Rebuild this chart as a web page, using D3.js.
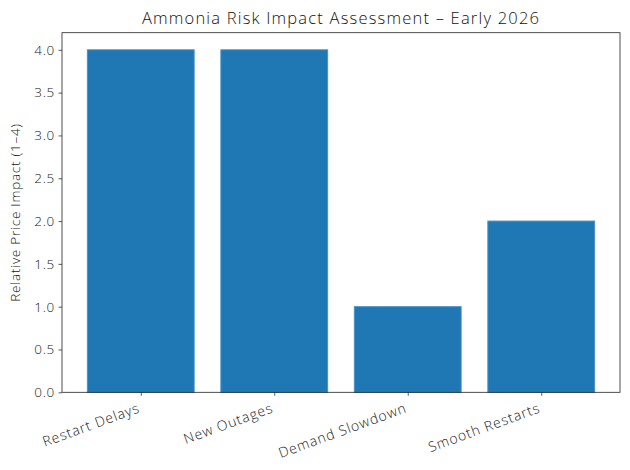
<!DOCTYPE html>
<html><head><meta charset="utf-8">
<script src="https://cdn.jsdelivr.net/npm/d3@7"></script>
<style>body{margin:0;background:#fff}svg{display:block}text{font-family:"Open Sans",sans-serif;font-weight:300}</style>
</head><body><svg id="c" width="630" height="470"></svg>
<script>
const categories = ["Restart Delays","New Outages","Demand Slowdown","Smooth Restarts"];
const values = [4,4,1,2];
const yTicks = [0,0.5,1,1.5,2,2.5,3,3.5,4];
const title = "Ammonia Risk Impact Assessment – Early 2026";
const yLabel = "Relative Price Impact (1–4)";

const m = {left:62, right:620, top:32.7, bottom:392.3};
const svg = d3.select("#c");
const x = d3.scaleLinear().domain([-0.59,3.59]).range([m.left,m.right]);
const y = d3.scaleLinear().domain([0,4.2]).range([m.bottom,m.top]);
const bw = x(0.8)-x(0);

svg.append("g").selectAll("rect").data(values).join("rect")
  .attr("x",(d,i)=>x(i-0.4)).attr("width",bw)
  .attr("y",d=>y(d)).attr("height",d=>y(0)-y(d))
  .attr("fill","#1f77b4").attr("stroke","#4a90c4").attr("stroke-width",1);

const yAxis = svg.append("g").attr("transform",`translate(${m.left},0)`)
  .call(d3.axisLeft(y).tickValues(yTicks).tickFormat(d3.format(".1f")).tickSize(3.5).tickPadding(3.5));
const xAxis = svg.append("g").attr("transform",`translate(0,${m.bottom})`)
  .call(d3.axisBottom(x).tickValues(d3.range(categories.length)).tickFormat(i=>categories[i]).tickSize(3.5).tickPadding(3.5));
[yAxis,xAxis].forEach(a=>{a.select(".domain").remove();a.selectAll("line").attr("stroke","#333").attr("stroke-width",0.8);
  a.selectAll("text").attr("fill","#222").style("font-size","13.5px").style("letter-spacing","0.7px");});
xAxis.selectAll("text").attr("text-anchor","end").attr("dy",null)
  .style("font-size","14px").style("letter-spacing","0.9px")
  .attr("transform","translate(-3,13) rotate(-20)");

svg.append("rect").attr("x",m.left).attr("y",m.top).attr("width",m.right-m.left).attr("height",m.bottom-m.top)
  .attr("fill","none").attr("stroke","#222").attr("stroke-width",0.8);

svg.append("text").attr("x",(m.left+m.right)/2).attr("y",m.top-9).attr("text-anchor","middle")
  .style("font-size","16.5px").style("letter-spacing","1.2px").attr("fill","#111").text(title);
svg.append("text").attr("transform",`translate(20,${(m.top+m.bottom)/2}) rotate(-90)`).attr("text-anchor","middle")
  .style("font-size","13.5px").style("letter-spacing","0.75px").attr("fill","#111").text(yLabel);
</script></body></html>
